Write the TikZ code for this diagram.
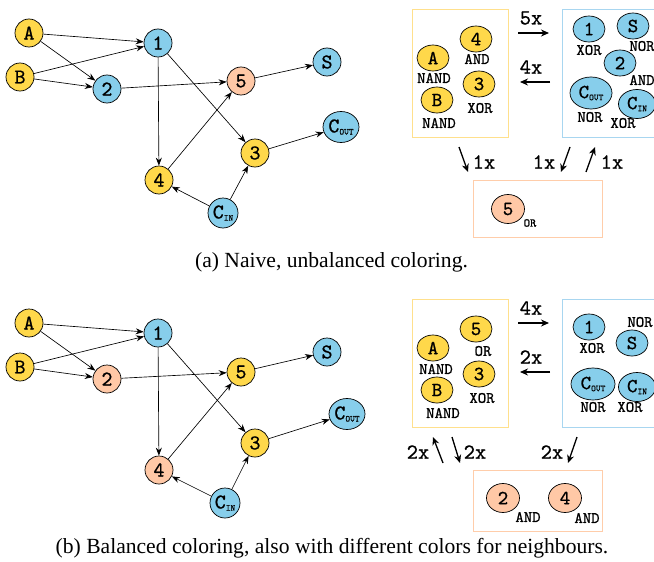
\documentclass[tikz,border=0pt]{standalone}
\usepackage{fontspec}
\setmainfont{Liberation Serif}
\newfontfamily\nf{lmmono10-regular.otf}[FakeBold=0.8]
\usetikzlibrary{arrows.meta,shapes.geometric}
\definecolor{gy}{HTML}{FFD84A}
\definecolor{gb}{HTML}{87CEEB}
\definecolor{go}{HTML}{FFC8A6}
\definecolor{by}{HTML}{FFE08C}
\definecolor{bb}{HTML}{A8D6F0}
\definecolor{bo}{HTML}{FFCDAA}
\newcommand{\Cout}{C\raisebox{-0.1em}{\fontsize{9}{9}\selectfont OUT}}
\newcommand{\Cin}{C\raisebox{-0.1em}{\fontsize{9}{9}\selectfont IN}}
\begin{document}
\begin{tikzpicture}[x=1pt,y=-1pt,
  gn/.style={circle,draw=black,line width=0.7pt,minimum size=28pt,inner sep=0pt,font=\fontsize{21}{21}\selectfont\nf},
  ge/.style={ellipse,draw=black,line width=0.7pt,minimum width=36pt,minimum height=31pt,inner sep=-2pt,font=\fontsize{21}{21}\selectfont\nf},
  pn/.style={ellipse,draw=black,line width=0.7pt,minimum width=32pt,minimum height=26pt,inner sep=-1pt,font=\fontsize{20}{20}\selectfont\nf},
  lab/.style={inner sep=0pt,font=\fontsize{16}{16}\selectfont\nf},
  slab/.style={inner sep=0pt,font=\fontsize{12}{12}\selectfont\nf},
  alab/.style={inner sep=0pt,font=\fontsize{21.5}{21.5}\selectfont\nf},
  garr/.style={-{Stealth[length=8pt,width=6pt]},line width=0.65pt},
  parr/.style={-{Stealth[length=8pt,width=7pt]},line width=1.3pt},
  boxnode/.style={draw,line width=0.9pt,inner sep=0pt},
  captxt/.style={inner sep=0pt,font=\fontsize{21.6}{21.6}\selectfont}
]
\useasboundingbox (0,0) rectangle (654,562);
\clip (0,0) rectangle (654,562);

% ---------------- graph (a)
\node[gn,fill=gy] (aA) at (29,33) {A};
\node[gn,fill=gy] (aB) at (20,77) {B};
\node[gn,fill=gb] (a1) at (158,43) {1};
\node[gn,fill=gb] (a2) at (107,89) {2};
\node[gn,fill=go] (a5) at (241,81) {5};
\node[gn,fill=gb] (aS) at (327,62) {S};
\node[ge,fill=gb] (aCo) at (341,127) {\Cout};
\node[gn,fill=gy] (a3) at (255,153) {3};
\node[gn,fill=gy] (a4) at (159,180) {4};
\node[gn,fill=gb,minimum size=30pt] (aCi) at (223,213) {\Cin};
\draw[garr] (aA) -- (a1);
\draw[garr] (aA) -- (a2);
\draw[garr] (aB) -- (a1);
\draw[garr] (aB) -- (a2);
\draw[garr] (a2) -- (a5);
\draw[garr] (a1) -- (a4);
\draw[garr] (a1) -- (a3);
\draw[garr] (a4) -- (a5);
\draw[garr] (a5) -- (aS);
\draw[garr] (a3) -- (aCo);
\draw[garr] (aCi) -- (a4);
\draw[garr] (aCi) -- (a3);

% ---------------- panel (a)
\node[boxnode,draw=by,minimum width=96pt,minimum height=128pt] (aYB) at (460,73) {};
\node[boxnode,draw=bb,minimum width=108pt,minimum height=128pt] (aBB) at (616,73) {};
\node[boxnode,draw=bo,minimum width=129pt,minimum height=57pt] (aOB) at (537.5,208.5) {};

\node[pn,fill=gy] (pa4) at (476,39) {4};
\node[lab] (pa4l) at (477,59) {AND};
\node[pn,fill=gy] (paA) at (433,58) {A};
\node[lab] (paAl) at (434,78) {NAND};
\node[pn,fill=gy] (pa3) at (479,84) {3};
\node[lab] (pa3l) at (480,108) {XOR};
\node[pn,fill=gy] (paB) at (437,100) {B};
\node[lab] (paBl) at (439,123) {NAND};

\node[pn,fill=gb] (pa1) at (589,29) {1};
\node[lab] (pa1l) at (589,50) {XOR};
\node[pn,fill=gb] (paS) at (633,26) {S};
\node[lab] (paSl) at (642,46) {NOR};
\node[pn,fill=gb] (pa2) at (620,63) {2};
\node[lab] (pa2l) at (642,80) {AND};
\node[pn,fill=gb,minimum width=42pt,minimum height=32pt] (paCo) at (591,93) {\Cout};
\node[lab] (paCol) at (590,117) {NOR};
\node[pn,fill=gb,minimum width=37pt,minimum height=29pt] (paCi) at (637,104) {\Cin};
\node[lab] (paCil) at (623,123) {XOR};

\node[pn,fill=go,minimum width=33pt,minimum height=29pt] (pa5) at (508,209) {5};
\node[slab] (pa5l) at (530,223) {OR};

\node[alab] (a5x) at (531,18) {5x};
\coordinate (ar1s) at (518,33); \coordinate (ar1e) at (549,33);
\draw[parr] (ar1s) -- (ar1e);
\node[alab] (a4x) at (531,67) {4x};
\coordinate (ar2s) at (550,82); \coordinate (ar2e) at (520,82);
\draw[parr] (ar2s) -- (ar2e);
\coordinate (ar3s) at (459,147); \coordinate (ar3e) at (468,172);
\draw[parr] (ar3s) -- (ar3e);
\node[alab] (a1xa) at (484,162) {1x};
\node[alab] (a1xb) at (544,162) {1x};
\coordinate (ar4s) at (570,147); \coordinate (ar4e) at (561,172);
\draw[parr] (ar4s) -- (ar4e);
\coordinate (ar5s) at (586,172); \coordinate (ar5e) at (595,147);
\draw[parr] (ar5s) -- (ar5e);
\node[alab] (a1xc) at (612,162) {1x};

\node[captxt] (capa) at (331.5,262) {(a) Naive, unbalanced coloring.};

% ---------------- graph (b)
\node[gn,fill=gy] (bA) at (29,323) {A};
\node[gn,fill=gy] (bB) at (20,367) {B};
\node[gn,fill=gb] (b1) at (158,333) {1};
\node[gn,fill=go] (b2) at (107,379) {2};
\node[gn,fill=gy] (b5) at (241,372) {5};
\node[gn,fill=gb] (bS) at (327,352) {S};
\node[ge,fill=gb] (bCo) at (347,414) {\Cout};
\node[gn,fill=gy] (b3) at (255,443) {3};
\node[gn,fill=go] (b4) at (159,470) {4};
\node[gn,fill=gb,minimum size=30pt] (bCi) at (225,503) {\Cin};
\draw[garr] (bA) -- (b1);
\draw[garr] (bA) -- (b2);
\draw[garr] (bB) -- (b1);
\draw[garr] (bB) -- (b2);
\draw[garr] (b2) -- (b5);
\draw[garr] (b1) -- (b4);
\draw[garr] (b1) -- (b3);
\draw[garr] (b4) -- (b5);
\draw[garr] (b5) -- (bS);
\draw[garr] (b3) -- (bCo);
\draw[garr] (bCi) -- (b4);
\draw[garr] (bCi) -- (b3);

% ---------------- panel (b)
\node[boxnode,draw=by,minimum width=96pt,minimum height=128pt] (bYB) at (460,363) {};
\node[boxnode,draw=bb,minimum width=108pt,minimum height=128pt] (bBB) at (616,363) {};
\node[boxnode,draw=bo,minimum width=129pt,minimum height=61pt] (bOB) at (537.5,500.5) {};

\node[pn,fill=gy] (pb5) at (476,329) {5};
\node[lab] (pb5l) at (483,351) {OR};
\node[pn,fill=gy] (pbA) at (433,348) {A};
\node[lab] (pbAl) at (436,369) {NAND};
\node[pn,fill=gy] (pb3) at (479,374) {3};
\node[lab] (pb3l) at (482,398) {XOR};
\node[pn,fill=gy] (pbB) at (437,390) {B};
\node[lab] (pbBl) at (443,413) {NAND};

\node[pn,fill=gb] (pb1) at (589,327) {1};
\node[lab] (pb1l) at (592,348) {XOR};
\node[pn,fill=gb] (pbS) at (632,343) {S};
\node[lab] (pbSl) at (640,322) {NOR};
\node[pn,fill=gb,minimum width=44pt,minimum height=32pt] (pbCo) at (593,384) {\Cout};
\node[lab] (pbCol) at (593,407) {NOR};
\node[pn,fill=gb,minimum width=37pt,minimum height=29pt] (pbCi) at (637,387) {\Cin};
\node[lab] (pbCil) at (630,407) {XOR};

\node[pn,fill=go,minimum width=33pt,minimum height=29pt] (pb2) at (503,498) {2};
\node[lab] (pb2l) at (528,517) {AND};
\node[pn,fill=go,minimum width=33pt,minimum height=29pt] (pb4) at (565,498) {4};
\node[lab] (pb4l) at (587,518) {AND};

\node[alab] (b4x) at (531,308) {4x};
\coordinate (br1s) at (518,323); \coordinate (br1e) at (549,323);
\draw[parr] (br1s) -- (br1e);
\node[alab] (b2x) at (531,357) {2x};
\coordinate (br2s) at (550,372); \coordinate (br2e) at (520,372);
\draw[parr] (br2s) -- (br2e);
\node[alab] (b2xa) at (418,452) {2x};
\coordinate (br3s) at (443,463); \coordinate (br3e) at (433,437);
\draw[parr] (br3s) -- (br3e);
\coordinate (br4s) at (452,437); \coordinate (br4e) at (460,463);
\draw[parr] (br4s) -- (br4e);
\node[alab] (b2xb) at (475,452) {2x};
\node[alab] (b2xc) at (552,452) {2x};
\coordinate (br5s) at (577,437); \coordinate (br5e) at (568,463);
\draw[parr] (br5s) -- (br5e);

\node[captxt] (capb) at (332,548) {(b) Balanced coloring, also with different colors for neighbours.};
\end{tikzpicture}
\end{document}
